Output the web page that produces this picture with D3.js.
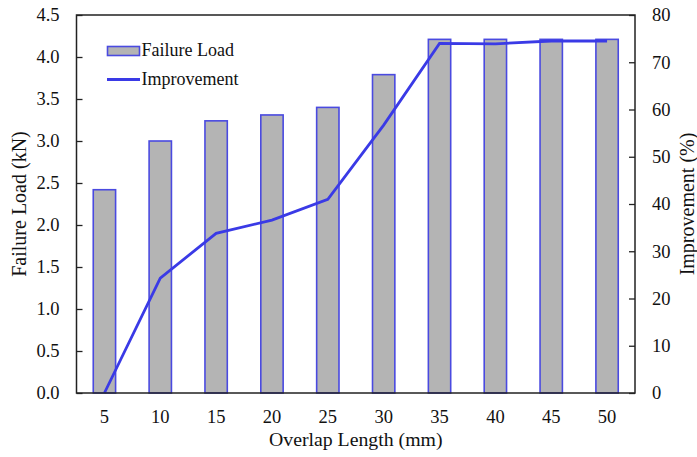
<!DOCTYPE html>
<html>
<head>
<meta charset="utf-8">
<script src="https://cdn.jsdelivr.net/npm/d3@7"></script>
<style>
  html, body { margin: 0; padding: 0; background: #fff; }
  svg { display: block; }
</style>
</head>
<body>
<svg id="chart" width="697" height="457"></svg>
<script>
// Overlap length categories (mm)
const overlapLengths = [5, 10, 15, 20, 25, 30, 35, 40, 45, 50];
// Failure load of each joint (kN)
const failureLoad = [2.42, 3.00, 3.24, 3.31, 3.40, 3.79, 4.21, 4.21, 4.21, 4.21];
// Improvement over the 5 mm joint (%)
const improvement = [0, 24.3, 33.8, 36.6, 41.0, 56.7, 74.0, 73.9, 74.5, 74.5];
// Axis ticks
const loadTicks = [0, 0.5, 1.0, 1.5, 2.0, 2.5, 3.0, 3.5, 4.0, 4.5];
const improvementTicks = [0, 10, 20, 30, 40, 50, 60, 70, 80];

const FONT = "'Liberation Serif', 'Times New Roman', 'DejaVu Serif', serif";

const svg = d3.select("#chart");
const plot = { left: 76.5, right: 635, top: 15, bottom: 393 };

const x = d3.scaleBand()
  .domain(overlapLengths)
  .range([plot.left, plot.right])
  .padding(0);
const yLeft = d3.scaleLinear().domain([0, 4.5]).range([plot.bottom, plot.top]);
const yRight = d3.scaleLinear().domain([0, 80]).range([plot.bottom, plot.top]);

const barW = x.bandwidth() * 0.4;
const blue = "#3a3ae6";

function styleText(sel, size) {
  sel.attr("font-family", FONT)
    .style("font-family", FONT)
    .style("font-size", size + "px")
    .attr("fill", "#111");
  return sel;
}

// Bars
svg.append("g").selectAll("rect")
  .data(overlapLengths)
  .join("rect")
  .attr("x", (d) => x(d) + x.bandwidth() / 2 - barW / 2)
  .attr("y", (d, i) => yLeft(failureLoad[i]))
  .attr("width", barW)
  .attr("height", (d, i) => plot.bottom - yLeft(failureLoad[i]))
  .attr("fill", "#b4b4b4")
  .attr("stroke", "#4a4ae0")
  .attr("stroke-width", 1.6);

// Improvement line
const line = d3.line()
  .x((d, i) => x(overlapLengths[i]) + x.bandwidth() / 2)
  .y((d) => yRight(d));
svg.append("path")
  .datum(improvement)
  .attr("d", line)
  .attr("fill", "none")
  .attr("stroke", blue)
  .attr("stroke-width", 2.8)
  .attr("stroke-linejoin", "miter");

// Frame
svg.append("rect")
  .attr("x", plot.left).attr("y", plot.top)
  .attr("width", plot.right - plot.left)
  .attr("height", plot.bottom - plot.top)
  .attr("fill", "none")
  .attr("stroke", "#222")
  .attr("stroke-width", 1.5);

// Left axis (ticks point inward)
const leftAxis = svg.append("g")
  .attr("transform", `translate(${plot.left},0)`)
  .call(d3.axisLeft(yLeft).tickValues(loadTicks).tickFormat(d3.format(".1f"))
    .tickSizeInner(-6).tickSizeOuter(0).tickPadding(17));
leftAxis.attr("font-family", FONT);
leftAxis.select(".domain").remove();
leftAxis.selectAll(".tick line").attr("stroke", "#222").attr("stroke-width", 1.3);
styleText(leftAxis.selectAll("text"), 18.5);

// Right axis (ticks point inward)
const rightAxis = svg.append("g")
  .attr("transform", `translate(${plot.right},0)`)
  .call(d3.axisRight(yRight).tickValues(improvementTicks).tickFormat(d3.format("d"))
    .tickSizeInner(-6).tickSizeOuter(0).tickPadding(17));
rightAxis.attr("font-family", FONT);
rightAxis.select(".domain").remove();
rightAxis.selectAll(".tick line").attr("stroke", "#222").attr("stroke-width", 1.3);
styleText(rightAxis.selectAll("text"), 18.5);

// Bottom axis: labels only
const bottomAxis = svg.append("g")
  .attr("transform", `translate(0,${plot.bottom})`)
  .call(d3.axisBottom(x).tickSize(0).tickPadding(17));
bottomAxis.attr("font-family", FONT);
bottomAxis.select(".domain").remove();
styleText(bottomAxis.selectAll("text"), 18.5);

// Axis titles
styleText(svg.append("text")
  .attr("x", (plot.left + plot.right) / 2)
  .attr("y", 446)
  .attr("text-anchor", "middle")
  .text("Overlap Length (mm)"), 19.8);

styleText(svg.append("text")
  .attr("transform", `translate(26,${(plot.top + plot.bottom) / 2}) rotate(-90)`)
  .attr("text-anchor", "middle")
  .text("Failure Load (kN)"), 20);

styleText(svg.append("text")
  .attr("transform", `translate(694,${(plot.top + plot.bottom) / 2}) rotate(-90)`)
  .attr("text-anchor", "middle")
  .text("Improvement (%)"), 20);

// Legend
const legend = svg.append("g");
legend.append("rect")
  .attr("x", 107.5).attr("y", 46.5).attr("width", 32).attr("height", 9)
  .attr("fill", "#b4b4b4").attr("stroke", "#4a4ae0").attr("stroke-width", 1.6);
styleText(legend.append("text")
  .attr("x", 141.5).attr("y", 56)
  .text("Failure Load"), 18);
legend.append("line")
  .attr("x1", 107).attr("x2", 140).attr("y1", 79.5).attr("y2", 79.5)
  .attr("stroke", blue).attr("stroke-width", 2.8);
styleText(legend.append("text")
  .attr("x", 141.5).attr("y", 85)
  .text("Improvement"), 18);
</script>
</body>
</html>
